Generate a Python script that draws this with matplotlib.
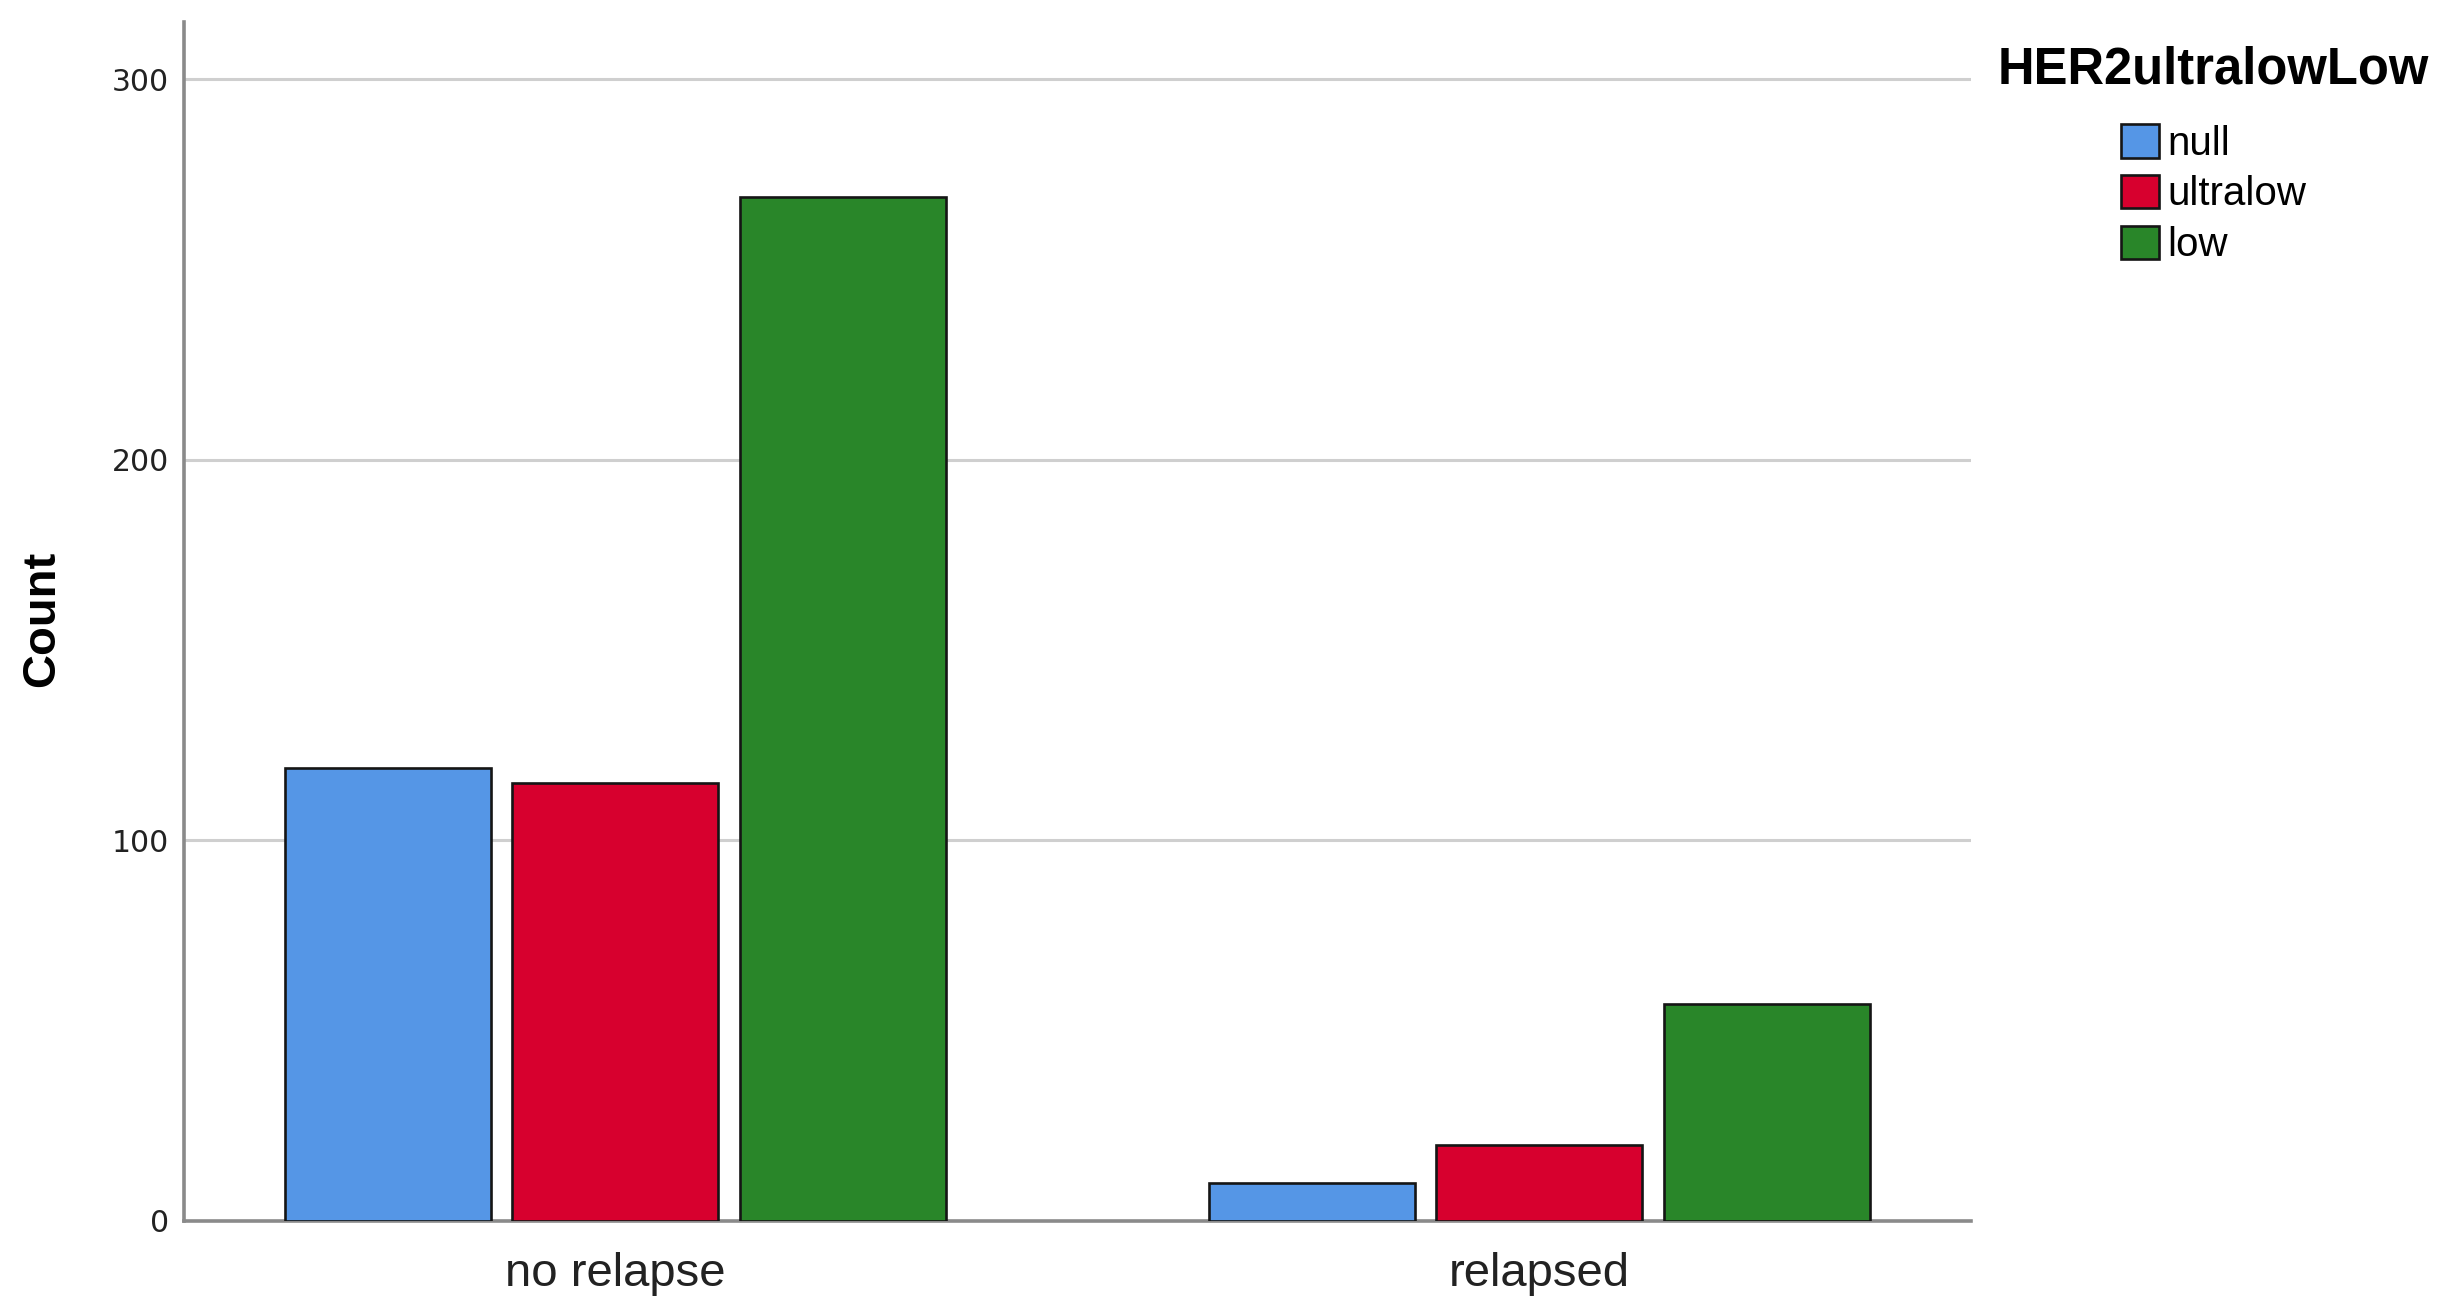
import matplotlib.pyplot as plt
import numpy as np

plt.rcParams['font.family'] = ['Liberation Sans', 'DejaVu Sans']

groups = ['no relapse', 'relapsed']
levels = ['null', 'ultralow', 'low']
counts = {
    'null': [119, 10],
    'ultralow': [115, 20],
    'low': [269, 57],
}
colors = ['#5596E6', '#D7002E', '#298629']
yticks = [0, 100, 200, 300]

fig = plt.figure(figsize=(24.49, 13.14), dpi=100)
ax = fig.add_axes([0.0751, 0.0708, 0.7297, 0.9125])

x = np.arange(len(groups))
step = 0.2466
width = 0.223
for i, lev in enumerate(levels):
    ax.bar(x + (i - 1) * step, counts[lev], width=width, color=colors[i],
           edgecolor='#151515', linewidth=1.9, label=lev, zorder=3)

ax.set_xlim(-0.467, 1.467)
ax.set_ylim(0, 315)
ax.set_xticks(x)
ax.set_xticklabels(groups, fontsize=34, color='#222222')
ax.set_yticks(yticks)
ax.set_yticklabels([str(t) for t in yticks], fontsize=21.5, color='#222222',
                   family='DejaVu Sans')
ax.tick_params(axis='both', length=0)
ax.tick_params(axis='y', pad=11)
ax.tick_params(axis='x', pad=22)

ax.grid(axis='y', color='#cfcfcf', linewidth=2.2, zorder=0)
for s in ['top', 'right']:
    ax.spines[s].set_visible(False)
for s in ['left', 'bottom']:
    ax.spines[s].set_color('#8a8a8a')
    ax.spines[s].set_linewidth(2.6)

fig.text(42 / 2449, 1 - 619 / 1314, 'Count', rotation=90, fontsize=34,
         fontweight='bold', ha='center', va='center')

leg = fig.legend(loc='upper left', bbox_to_anchor=(1998 / 2449, 1 - 46 / 1314),
                 title='HER2ultralowLow', fontsize=29, frameon=False,
                 borderpad=0, borderaxespad=0, handlelength=0.95,
                 handleheight=0.9, handletextpad=0.2, labelspacing=0.3)
leg.get_title().set_fontsize(36.5)
leg.get_title().set_fontweight('bold')
# a bit more room between the title and the first entry
leg._legend_box.sep = 21

fig.savefig('out.png', dpi=100, facecolor='white')
